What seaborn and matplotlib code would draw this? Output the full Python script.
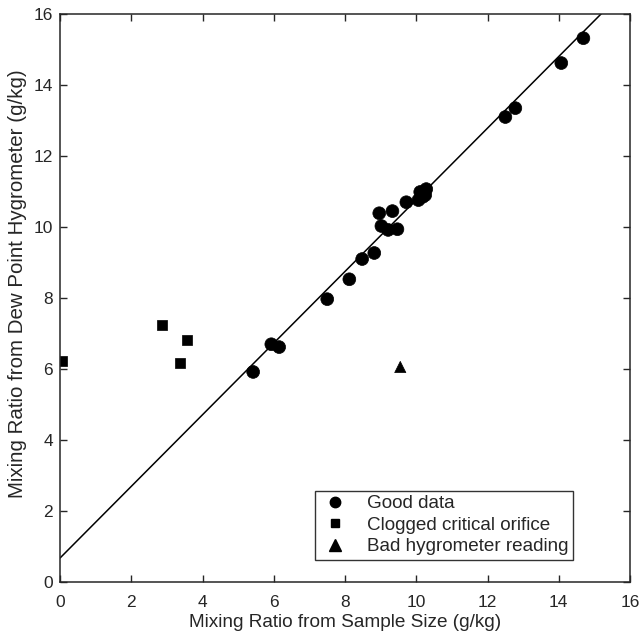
import matplotlib
matplotlib.use('Agg')
import matplotlib.pyplot as plt
import numpy as np
import pandas as pd
import seaborn as sns

# good data (circles)
good_x = [5.42, 5.93, 6.15, 7.50, 8.12, 8.48, 8.82, 8.96, 9.02, 9.21, 9.47, 9.33,
          9.72, 10.06, 10.11, 10.28, 10.25, 10.18, 12.50, 12.78, 14.07, 14.69]
good_y = [5.92, 6.70, 6.62, 7.97, 8.53, 9.10, 9.27, 10.39, 10.03, 9.92, 9.94, 10.45,
          10.70, 10.76, 10.99, 11.07, 10.90, 10.85, 13.10, 13.35, 14.62, 15.32]
# clogged critical orifice (squares)
clog_x = [0.06, 2.87, 3.57, 3.37]
clog_y = [6.23, 7.24, 6.82, 6.17]
# bad hygrometer reading (triangle)
bad_x = [9.55]
bad_y = [6.06]

categories = ['Good data', 'Clogged critical orifice', 'Bad hygrometer reading']

# fitted line
fit_slope = 1.009
fit_intercept = 0.68

df = pd.DataFrame({
    'x': good_x + clog_x + bad_x,
    'y': good_y + clog_y + bad_y,
    'kind': [categories[0]] * len(good_x) + [categories[1]] * len(clog_x) + [categories[2]] * len(bad_x),
})

sns.set_style('ticks')
plt.rcParams['font.family'] = ['Liberation Sans', 'DejaVu Sans']

fig = plt.figure(figsize=(6.39, 6.39), dpi=100)
ax = fig.add_axes([0.094, 0.089, 0.892, 0.889])

line_x = np.array([0, 16])
sns.lineplot(x=line_x, y=fit_slope * line_x + fit_intercept, color='black', lw=1.1, ax=ax)

sns.scatterplot(data=df, x='x', y='y', style='kind', style_order=categories,
                markers={categories[0]: 'o', categories[1]: 's', categories[2]: '^'},
                size='kind', sizes={categories[0]: 85, categories[1]: 48, categories[2]: 65},
                color='black', edgecolor='black', linewidth=0.5, ax=ax, legend=False)

# legend
handles = [plt.Line2D([], [], marker=m, color='black', ls='none', markersize=ms)
           for m, ms in zip(['o', 's', '^'], [7.5, 6, 8])]
leg = ax.legend(handles, categories, loc='lower right', bbox_to_anchor=(0.9, 0.039),
                borderaxespad=0, fontsize=13.6, frameon=True, fancybox=False,
                edgecolor='black', borderpad=0.25, labelspacing=0.22,
                handletextpad=0.9, handlelength=1.6)
leg.get_frame().set_linewidth(1.0)

ax.set_xlim(0, 16)
ax.set_ylim(0, 16)
ax.set_xticks(range(0, 17, 2))
ax.set_yticks(range(0, 17, 2))
ax.tick_params(direction='in', top=True, right=True, labelsize=12.5, length=5, width=1)
ax.tick_params(axis='x', pad=9)
ax.tick_params(axis='y', pad=5)
for sp in ax.spines.values():
    sp.set_visible(True)
    sp.set_linewidth(1.1)
ax.set_xlabel('Mixing Ratio from Sample Size (g/kg)', fontsize=13.7, labelpad=3)
ax.set_ylabel('Mixing Ratio from Dew Point Hygrometer (g/kg)', fontsize=14.8)
ax.yaxis.set_label_coords(-0.058, 0.525)

fig.savefig('out.png', dpi=100)
